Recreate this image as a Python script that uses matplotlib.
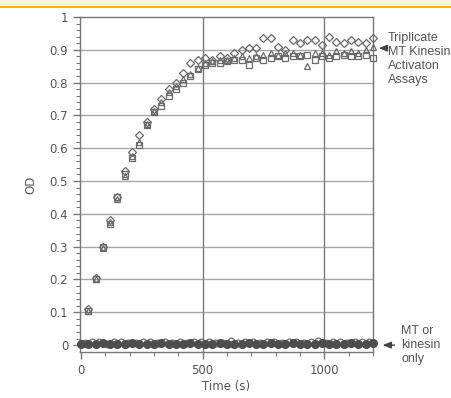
import numpy as np
import matplotlib
matplotlib.use("Agg")
import matplotlib.pyplot as plt
from matplotlib.patches import Rectangle

# time points (s) for the activation assays
times = list(range(30, 1201, 30))

# triplicate MT kinesin activation assays (OD)
od_squares = [0.105, 0.20, 0.30, 0.37, 0.45, 0.52, 0.57, 0.61, 0.67, 0.71,
              0.73, 0.76, 0.78, 0.80, 0.82, 0.84, 0.855, 0.86, 0.86, 0.865,
              0.87, 0.87, 0.855, 0.875, 0.87, 0.875, 0.88, 0.875, 0.88, 0.88,
              0.885, 0.87, 0.88, 0.875, 0.88, 0.885, 0.88, 0.88, 0.885, 0.875]
od_diamonds = [0.11, 0.205, 0.30, 0.38, 0.45, 0.53, 0.59, 0.64, 0.68, 0.72,
               0.75, 0.78, 0.80, 0.83, 0.86, 0.87, 0.875, 0.87, 0.88, 0.875,
               0.89, 0.90, 0.905, 0.905, 0.935, 0.935, 0.91, 0.90, 0.93, 0.92,
               0.93, 0.93, 0.915, 0.94, 0.925, 0.92, 0.93, 0.925, 0.92, 0.935]
od_triangles = [0.105, 0.20, 0.295, 0.375, 0.445, 0.515, 0.575, 0.62, 0.675, 0.715,
                0.74, 0.77, 0.79, 0.81, 0.825, 0.845, 0.86, 0.865, 0.87, 0.87,
                0.875, 0.88, 0.875, 0.88, 0.885, 0.89, 0.885, 0.89, 0.89, 0.885,
                0.852, 0.89, 0.89, 0.885, 0.895, 0.89, 0.895, 0.89, 0.9, 0.91]

# MT or kinesin only controls
ctrl_times = list(range(0, 1201, 30))
ctrl_filled = [0.002, 0.004, 0.003, 0.005, 0.002, 0.004, 0.003, 0.006, 0.002, 0.004,
               0.003, 0.005, 0.003, 0.002, 0.004, 0.006, 0.003, 0.004, 0.002, 0.005,
               0.004, 0.003, 0.002, 0.005, 0.004, 0.003, 0.006, 0.004, 0.003, 0.005,
               0.002, 0.004, 0.003, 0.005, 0.004, 0.003, 0.004, 0.006, 0.003, 0.004, 0.005]
ctrl_open_times = list(range(15, 1201, 30))
ctrl_open = [0.006, 0.010, 0.008, 0.004, 0.009, 0.011, 0.007, 0.006, 0.009, 0.010,
             0.005, 0.008, 0.007, 0.010, 0.006, 0.009, 0.008, 0.011, 0.005, 0.007,
             0.012, 0.006, 0.008, 0.010, 0.007, 0.009, 0.011, 0.006, 0.008, 0.010,
             0.007, 0.009, 0.012, 0.006, 0.008, 0.011, 0.007, 0.009, 0.010, 0.008]

fig = plt.figure(figsize=(4.52, 3.98), dpi=100)
fig.patch.set_facecolor('white')

# header band
fig.add_artist(Rectangle((0, 1 - 6 / 398), 1, 6 / 398, transform=fig.transFigure,
                         facecolor='#fdf3dd', edgecolor='none'))
fig.add_artist(Rectangle((0, 1 - 8 / 398), 1, 2 / 398, transform=fig.transFigure,
                         facecolor='#f7b500', edgecolor='none'))

ax = fig.add_axes([80 / 452, 1 - 352 / 398, 293 / 452, 335 / 398])

gray = '#6a6a6a'
mk = dict(linestyle='none', markerfacecolor='none', markeredgecolor=gray,
          markersize=4.8, markeredgewidth=0.9, clip_on=False, zorder=3)
ax.plot(times, od_diamonds, marker='D', **{**mk, 'markersize': 4.0})
ax.plot(times, od_triangles, marker='^', **mk)
ax.plot(times, od_squares, marker='s', **mk)

ax.plot(ctrl_open_times, ctrl_open, marker='o', **mk)
ax.plot(ctrl_times, ctrl_filled, marker='o', linestyle='none', color='#4d4d4d',
        markersize=5.5, clip_on=False, zorder=4)

ax.set_xlim(-4, 1197)
ax.set_ylim(-0.021, 1.0)

for v in np.arange(0.1, 0.95, 0.1):
    ax.axhline(v, color='#a8a8a8', lw=1, zorder=1)
for v in [500, 1000]:
    ax.axvline(v, color='#7a7a7a', lw=1, zorder=1)

ax.set_xticks([0, 500, 1000])
ax.set_xticks(np.arange(0, 1201, 100), minor=True)
ax.set_yticks(np.round(np.arange(0, 1.01, 0.1), 1))
ax.set_yticklabels(['0', '0.1', '0.2', '0.3', '0.4', '0.5', '0.6', '0.7', '0.8', '0.9', '1'])
ax.set_yticks(np.arange(0, 1.001, 0.02), minor=True)

ax.tick_params(axis='both', which='major', length=5, width=1, colors='#777777',
               labelcolor='#555555', labelsize=8.5)
ax.tick_params(axis='both', which='minor', length=3, width=0.8, colors='#777777')
for s in ax.spines.values():
    s.set_color('#777777')
    s.set_linewidth(1)

ax.set_xlabel('Time (s)', color='#555555', fontsize=8.5, labelpad=2)
ax.set_ylabel('OD', color='#555555', fontsize=8.5, labelpad=9)

ax.text(1262, 0.872, 'Triplicate\nMT Kinesin\nActivaton\nAssays', fontsize=9,
        family='Liberation Sans', color='#555555', va='center', ha='left',
        linespacing=1.2, clip_on=False)
ax.annotate('', xy=(1212, 0.905), xytext=(1252, 0.905),
            arrowprops=dict(arrowstyle='-|>,head_length=0.5,head_width=0.2',
                            color='#444444', lw=1), annotation_clip=False)

ax.text(1316, 0.0, 'MT or\nkinesin\nonly', fontsize=9, family='Liberation Sans',
        color='#555555', va='center', ha='left', linespacing=1.2, clip_on=False)
ax.annotate('', xy=(1228, 0.0), xytext=(1300, 0.0),
            arrowprops=dict(arrowstyle='-|>,head_length=0.5,head_width=0.2',
                            color='#444444', lw=1), annotation_clip=False)

fig.savefig('out.png', dpi=100)
